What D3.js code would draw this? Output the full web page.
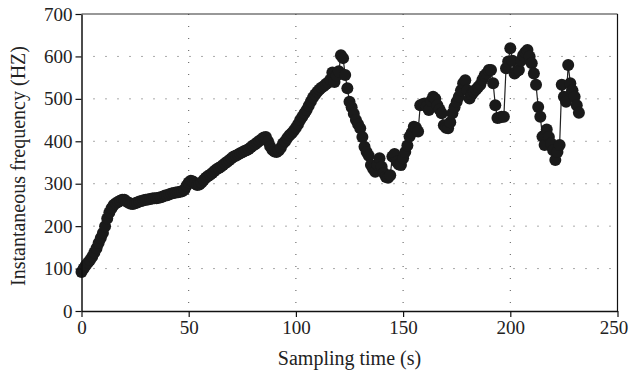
<!DOCTYPE html>
<html><head><meta charset="utf-8">
<script src="https://cdn.jsdelivr.net/npm/d3@7"></script>
<style>body{margin:0;background:#fff}svg{display:block}text{font-family:"Liberation Serif","DejaVu Serif",serif;fill:#222}</style>
</head><body><svg id="c" width="629" height="372"></svg>
<script>
const times = d3.range(0, 233);
const freqs = [
92,100,108,114,120,128,138,148,160,172,184,200,218,232,242,250,254,257,260,262,262,
258,255,253,252,254,256,258,259,261,262,263,264,265,266,266,267,268,270,272,273,275,277,278,279,280,281,282,286,295,303,
307,305,300,297,298,303,309,314,318,321,
325,330,334,337,340,344,348,352,356,360,
364,366,369,372,374,377,379,382,386,390,
393,397,401,405,409,410,400,388,380,376,
375,378,385,395,400,408,414,419,425,
432,440,450,458,466,474,484,494,503,510,517,
522,527,530,535,538,545,562,540,555,565,603,596,556,525,493,480,465,450,440,431,
410,387,375,366,344,335,328,345,360,340,325,316,314,320,364,370,352,345,344,360,
375,390,411,420,434,432,423,485,487,489,482,474,495,505,500,485,475,466,438,432,
431,445,466,480,493,505,520,537,544,520,501,510,517,522,528,533,545,555,560,568,
568,537,485,455,456,458,458,572,588,619,590,560,565,568,590,603,610,615,600,584,
560,533,481,458,411,391,428,410,395,379,356,375,391,533,505,493,580,537,520,505,485,467
];
const xTicks = [0,50,100,150,200,250];
const yTicks = [0,100,200,300,400,500,600,700];
const xLabel = "Sampling time (s)";
const yLabel = "Instantaneous frequency (HZ)";

const data = times.map((t,i)=>({t, f:freqs[i]}));
const svg = d3.select("#c");
const L=81.5, R=617.5, T=14, B=311;
const x = d3.scaleLinear().domain([0,250]).range([L,R]);
const y = d3.scaleLinear().domain([0,700]).range([B,T]);

// grid
const g = svg.append("g");
yTicks.filter(v=>v>0&&v<700).forEach(v=>{
  g.append("line").attr("x1",L+12).attr("x2",R).attr("y1",y(v)).attr("y2",y(v))
   .attr("stroke","#555").attr("stroke-width",1).attr("stroke-dasharray","1,11");
});
xTicks.filter(v=>v>0&&v<250).forEach(v=>{
  g.append("line").attr("x1",x(v)).attr("x2",x(v)).attr("y1",B-8).attr("y2",T)
   .attr("stroke","#555").attr("stroke-width",1).attr("stroke-dasharray","1,11");
});
// box top/right
svg.append("line").attr("x1",L).attr("x2",R).attr("y1",T).attr("y2",T).attr("stroke","#333").attr("stroke-width",1.2);
svg.append("line").attr("x1",R).attr("x2",R).attr("y1",T).attr("y2",B).attr("stroke","#111").attr("stroke-width",1.2);

// data
svg.append("path").datum(data).attr("fill","none").attr("stroke","#222").attr("stroke-width",1.2)
  .attr("d", d3.line().x(d=>x(d.t)).y(d=>y(d.f)));
svg.append("g").selectAll("circle").data(data).join("circle")
  .attr("cx",d=>x(d.t)).attr("cy",d=>y(d.f)).attr("r",6).attr("fill","#1a1a1a");

// axes
const xa = svg.append("g").attr("transform",`translate(0,${B})`)
  .call(d3.axisBottom(x).tickValues(xTicks).tickSize(6).tickSizeOuter(0).tickPadding(4));
const ya = svg.append("g").attr("transform",`translate(${L},0)`)
  .call(d3.axisLeft(y).tickValues(yTicks).tickSize(6).tickSizeOuter(0).tickPadding(3));
[xa,ya].forEach(a=>{
  a.select(".domain").attr("stroke","#111").attr("stroke-width",1.5);
  a.selectAll(".tick line").attr("stroke","#111").attr("stroke-width",1.2);
  a.selectAll(".tick text").attr("font-family","Liberation Serif, serif").attr("font-size",19).attr("fill","#222");
});
xa.selectAll(".tick text").filter(d=>d===250).attr("dx",-4);

svg.append("text").attr("x",(L+R)/2).attr("y",365).attr("text-anchor","middle").attr("font-size",20).text(xLabel);
svg.append("text").attr("transform",`translate(25,166) rotate(-90)`).attr("text-anchor","middle").attr("font-size",20).text(yLabel);
</script></body></html>
